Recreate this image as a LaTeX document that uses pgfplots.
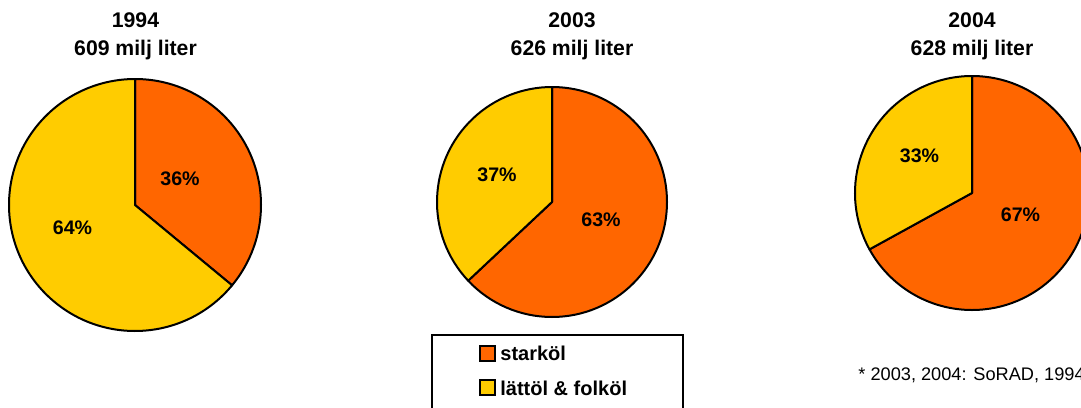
\documentclass[border=0pt]{standalone}
\usepackage{fontspec}
\setmainfont{Liberation Sans}
\usepackage{pgfplots}
\usepackage{pgfplotstable}
\pgfplotsset{compat=1.18}
\definecolor{starkc}{HTML}{FF6600}
\definecolor{lattc}{HTML}{FFCC00}

% andel i procent, starköl först
\pgfplotstableread{
typ    andel
stark  36
latt   64
}\pieA
\pgfplotstableread{
typ    andel
stark  63
latt   37
}\pieB
\pgfplotstableread{
typ    andel
stark  67
latt   33
}\pieC

\pgfplotsset{
  pie/.style={scale only axis, hide axis, clip=false,
    xmin=-1, xmax=1, ymin=-1, ymax=1, anchor=center},
}
\tikzset{wedge/.style={draw=black, line width=1pt, line join=round}}
\newcommand{\lab}{\fontsize{9.8pt}{11pt}\selectfont\bfseries}
\newcommand{\ttl}{\fontsize{10.6pt}{12pt}\selectfont\bfseries}

\begin{document}
\begin{tikzpicture}
\useasboundingbox (0,0) rectangle (540.5pt,-203.5pt);
\clip (0,0) rectangle (540.5pt,-203.5pt);

% 1994
\pgfplotstablegetelem{0}{andel}\of\pieA \edef\sv{\pgfplotsretval}
\begin{axis}[pie, width=126pt, height=126pt, at={(67.5pt,-102.5pt)}]
  \fill[starkc, wedge] (axis cs:0,0) -- (axis cs:0,1)
    arc[start angle=90, end angle={90-3.6*\sv}, radius=63pt] -- cycle;
  \fill[lattc, wedge] (axis cs:0,0) -- ++({90-3.6*\sv}:63pt)
    arc[start angle={90-3.6*\sv}, end angle=-270, radius=63pt] -- cycle;
  \node[font=\lab] at (axis cs:0.357,0.212) {36\%};
  \node[font=\lab] at (axis cs:-0.496,-0.179) {64\%};
\end{axis}

% 2003
\pgfplotstablegetelem{0}{andel}\of\pieB \edef\sv{\pgfplotsretval}
\begin{axis}[pie, width=115pt, height=115pt, at={(276pt,-101pt)}]
  \fill[starkc, wedge] (axis cs:0,0) -- (axis cs:0,1)
    arc[start angle=90, end angle={90-3.6*\sv}, radius=57.5pt] -- cycle;
  \fill[lattc, wedge] (axis cs:0,0) -- ++({90-3.6*\sv}:57.5pt)
    arc[start angle={90-3.6*\sv}, end angle=-270, radius=57.5pt] -- cycle;
  \node[font=\lab] at (axis cs:-0.478,0.239) {37\%};
  \node[font=\lab] at (axis cs:0.426,-0.152) {63\%};
\end{axis}

% 2004
\pgfplotstablegetelem{0}{andel}\of\pieC \edef\sv{\pgfplotsretval}
\begin{axis}[pie, width=117pt, height=117pt, at={(486pt,-96.5pt)}]
  \fill[starkc, wedge] (axis cs:0,0) -- (axis cs:0,1)
    arc[start angle=90, end angle={90-3.6*\sv}, radius=58.5pt] -- cycle;
  \fill[lattc, wedge] (axis cs:0,0) -- ++({90-3.6*\sv}:58.5pt)
    arc[start angle={90-3.6*\sv}, end angle=-270, radius=58.5pt] -- cycle;
  \node[font=\lab] at (axis cs:-0.449,0.316) {33\%};
  \node[font=\lab] at (axis cs:0.415,-0.188) {67\%};
\end{axis}

% rubriker
\node[font=\ttl, anchor=base] at (67.75pt,-13.75pt) {1994};
\node[font=\ttl, anchor=base] at (67.75pt,-27.5pt) {609 milj liter};
\node[font=\ttl, anchor=base] at (286pt,-13.75pt) {2003};
\node[font=\ttl, anchor=base] at (286pt,-27.5pt) {626 milj liter};
\node[font=\ttl, anchor=base] at (486pt,-13.75pt) {2004};
\node[font=\ttl, anchor=base] at (486pt,-27.5pt) {628 milj liter};

% förklaring
\draw[line width=1pt] (215.75pt,-167.5pt) rectangle (341.25pt,-215pt);
\draw[fill=starkc, line width=0.75pt] (240pt,-173pt) rectangle (247.5pt,-180.5pt);
\draw[fill=lattc, line width=0.75pt] (240pt,-190pt) rectangle (247.5pt,-197.5pt);
\node[font=\fontsize{10pt}{12pt}\selectfont\bfseries, anchor=base west, inner xsep=0pt]
  at (250pt,-180pt) {starköl};
\node[font=\fontsize{10pt}{12pt}\selectfont\bfseries, anchor=base west, inner xsep=0pt]
  at (250pt,-197.5pt) {lättöl \& folköl};

% källa (beskuren i högerkanten, som i originalet)
\node[font=\fontsize{9.1pt}{11pt}\selectfont, anchor=base west, inner xsep=0pt]
  at (429pt,-190pt) {* 2003, 2004: SoRAD, 1994};
\end{tikzpicture}
\end{document}
